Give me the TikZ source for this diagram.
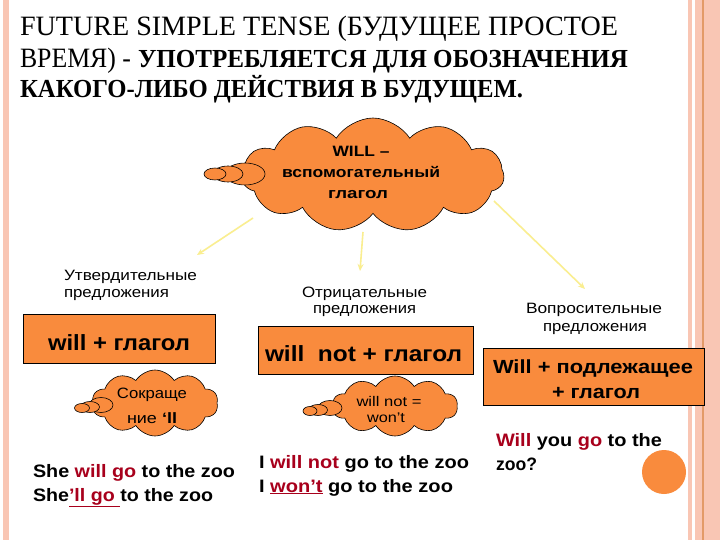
\documentclass[tikz,border=0pt]{standalone}
\usepackage{fontspec}
\usepackage{graphicx}
\setmainfont{Liberation Sans}
\newfontfamily\serif{Liberation Serif}
\usetikzlibrary{shapes.symbols,shapes.geometric,arrows.meta}
\definecolor{orng}{HTML}{F98B3D}
\definecolor{pinkb}{HTML}{F9C6B4}
\definecolor{dred}{HTML}{A8001C}
\definecolor{yel}{HTML}{FAEE90}
\definecolor{brd}{HTML}{E39A68}
\newcommand{\fw}[2]{\resizebox{#1pt}{\height}{#2}}
\begin{document}
\begin{tikzpicture}[x=1pt,y=-1pt,
  txt/.style={anchor=base west,inner sep=0pt,outer sep=0pt},
  ctxt/.style={anchor=base,inner sep=0pt,outer sep=0pt},
  bigcloud/.style={cloud,cloud puffs=11,cloud puff arc=115,aspect=2.3,draw=black,fill=orng,inner sep=0pt,line width=0.6pt},
  bubble/.style={ellipse,draw=black,fill=orng,inner sep=0pt,line width=0.6pt},
  obox/.style={draw=black,fill=orng,line width=0.6pt},
  arr/.style={yel,line width=1.6pt,-{Stealth[length=7pt,width=6pt]}}]
\useasboundingbox (0,0) rectangle (720,540);
\fill[white] (0,0) rectangle (720,540);
% borders
\fill[pinkb] (3,0) rectangle (9,540);
\fill[pinkb] (688,0) rectangle (692,540);
\fill[pinkb] (695,0) rectangle (702,540);
\fill[brd] (702,0) rectangle (704,540);
\fill[pinkb] (704,0) rectangle (720,540);
% title
\node[txt] (t1) at (20,36) {\fw{598}{\fontsize{28}{28}\selectfont\serif FUTURE SIMPLE TENSE (БУДУЩЕЕ ПРОСТОЕ}};
\node[txt] (t2a) at (20,68) {\fw{111}{\fontsize{28}{28}\selectfont\serif ВРЕМЯ) -}};
\node[txt] (t2b) at (138,68) {\fw{490}{\fontsize{26}{26}\selectfont\serif\bfseries УПОТРЕБЛЯЕТСЯ ДЛЯ ОБОЗНАЧЕНИЯ}};
\node[txt] (t3) at (20,98) {\fw{503}{\fontsize{26}{26}\selectfont\serif\bfseries КАКОГО-ЛИБО ДЕЙСТВИЯ В БУДУЩЕМ.}};
% main cloud
\node[bigcloud,minimum width=262pt,minimum height=114pt] (will) at (373,175) {};
\node[bubble,minimum width=40pt,minimum height=22pt] (wb3) at (245,174) {};
\node[bubble,minimum width=30pt,minimum height=16pt] (wb2) at (228,174) {};
\node[bubble,minimum width=22pt,minimum height=12pt] (wb1) at (215,174) {};
\node[ctxt] (w1) at (361,157) {\fw{57}{\fontsize{15}{15}\selectfont\bfseries WILL –}};
\node[ctxt] (w2) at (361,178) {\fw{158}{\fontsize{15}{15}\selectfont\bfseries вспомогательный}};
\node[ctxt] (w3) at (358,199) {\fw{60}{\fontsize{15}{15}\selectfont\bfseries глагол}};
% arrows
\coordinate (a1s) at (253,218); \coordinate (a1e) at (197,255);
\coordinate (a2s) at (363,232); \coordinate (a2e) at (360,271);
\coordinate (a3s) at (494,201); \coordinate (a3e) at (585,289);
\draw[arr] (a1s) -- (a1e);
\draw[arr] (a2s) -- (a2e);
\draw[arr] (a3s) -- (a3e);
% labels
\node[txt] (l1a) at (64,280) {\fw{133}{\fontsize{15}{15}\selectfont Утвердительные}};
\node[txt] (l1b) at (64,297) {\fw{105}{\fontsize{15}{15}\selectfont предложения}};
\node[txt] (l2a) at (302,297) {\fw{125}{\fontsize{15}{15}\selectfont Отрицательные}};
\node[txt] (l2b) at (313,313) {\fw{103}{\fontsize{15}{15}\selectfont предложения}};
\node[txt] (l3a) at (526,313) {\fw{136}{\fontsize{15}{15}\selectfont Вопросительные}};
\node[txt] (l3b) at (543,331) {\fw{104}{\fontsize{15}{15}\selectfont предложения}};
% boxes
\draw[obox] (23,314) rectangle (215,363);
\node[txt] (b1) at (48,350) {\fw{142}{\fontsize{22}{22}\selectfont\bfseries will + глагол}};
\draw[obox] (258,326) rectangle (473,374);
\node[txt] (b2) at (265,361) {\fw{197}{\fontsize{22}{22}\selectfont\bfseries will\ \ not + глагол}};
\draw[obox] (483,348) rectangle (704,405);
\node[txt] (b3a) at (493,373) {\fw{200}{\fontsize{19}{19}\selectfont\bfseries Will + подлежащее}};
\node[txt] (b3b) at (552,398) {\fw{88}{\fontsize{19}{19}\selectfont\bfseries + глагол}};
% small cloud A
\node[bigcloud,cloud puffs=10,aspect=1.9,minimum width=126pt,minimum height=66pt] (ca) at (155,403) {};
\node[bubble,minimum width=24pt,minimum height=15pt] (ab3) at (101,405) {};
\node[bubble,minimum width=19pt,minimum height=11pt] (ab2) at (90,407) {};
\node[bubble,minimum width=15pt,minimum height=9pt] (ab1) at (82,408) {};
\node[ctxt] (ca1) at (152,398) {\fw{70}{\fontsize{15}{15}\selectfont Сокраще}};
\node[ctxt] (ca2) at (152,423) {\fw{50}{\fontsize{15}{15}\selectfont ние \textbf{‘ll}}};
% small cloud B
\node[bigcloud,cloud puffs=10,aspect=2.1,minimum width=125pt,minimum height=60pt] (cb) at (395,406) {};
\node[bubble,minimum width=24pt,minimum height=15pt] (bb3) at (330,408) {};
\node[bubble,minimum width=19pt,minimum height=11pt] (bb2) at (318,410) {};
\node[bubble,minimum width=14pt,minimum height=9pt] (bb1) at (310,411) {};
\node[ctxt] (cb1) at (389,406) {\fw{65}{\fontsize{14}{14}\selectfont will not =}};
\node[ctxt] (cb2) at (386,422) {\fw{38}{\fontsize{14}{14}\selectfont won’t}};
% sentences
\node[txt] (s1) at (33,477) {\fw{202}{\fontsize{18}{18}\selectfont\bfseries She \textcolor{dred}{will go} to the zoo}};
\node[txt] (s2) at (33,501) {\fw{180}{\fontsize{18}{18}\selectfont\bfseries She\textcolor{dred}{\underline{’ll go }}to the zoo}};
\node[txt] (s3) at (259,468) {\fw{210}{\fontsize{18}{18}\selectfont\bfseries I \textcolor{dred}{will not} go to the zoo}};
\node[txt] (s4) at (259,492) {\fw{194}{\fontsize{18}{18}\selectfont\bfseries I \textcolor{dred}{\underline{won’t}} go to the zoo}};
\node[txt] (s5) at (496,446) {\fw{166}{\fontsize{18}{18}\selectfont\bfseries \textcolor{dred}{Will} you \textcolor{dred}{go} to the}};
\node[txt] (s6) at (496,470) {\fw{41}{\fontsize{18}{18}\selectfont\bfseries zoo?}};
% circle
\node[circle,fill=orng,minimum size=44pt,inner sep=0pt] (dot) at (664,472) {};
\end{tikzpicture}
\end{document}
